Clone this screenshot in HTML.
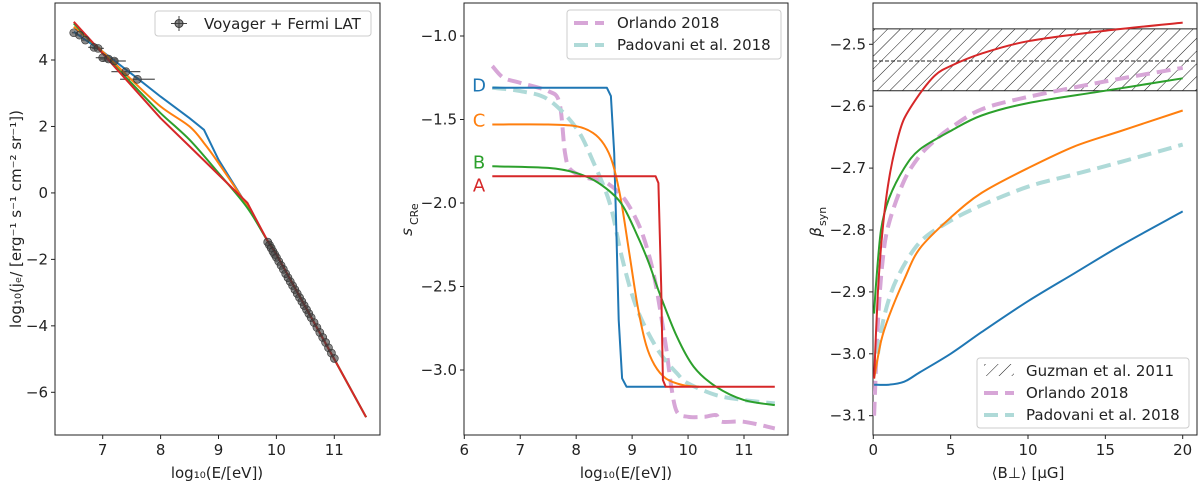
<!DOCTYPE html>
<html><head><meta charset="utf-8"><style>
html,body{margin:0;padding:0;background:#fff;}
svg{display:block;font-family:"DejaVu Sans","Liberation Sans",sans-serif;}
</style></head><body>
<svg id="fig" width="1200" height="482" viewBox="0 0 1200 482" xmlns="http://www.w3.org/2000/svg">
<defs>
<pattern id="hatch" patternUnits="userSpaceOnUse" width="9" height="9" patternTransform="rotate(45)">
<line x1="0" y1="0" x2="0" y2="9" stroke="#000" stroke-width="0.9"/>
</pattern>
<clipPath id="c1"><rect x="55" y="3" width="325" height="432"/></clipPath>
<clipPath id="c2"><rect x="464" y="3" width="324" height="432"/></clipPath>
<clipPath id="c3"><rect x="873" y="3" width="324" height="432"/></clipPath>
</defs>
</svg>
<script>
// ---------- Panel 1 data ----------
const p1Blue = [[6.5,4.85],[7,4.25],[7.6,3.45],[8,2.9],[8.5,2.25],[8.75,1.9],[9,1.0],[9.5,-0.4],[9.85,-1.45],[10,-1.85],[11,-5.0],[11.55,-6.75]];
const p1Orange = [[6.5,5.0],[7,4.25],[7.5,3.4],[8,2.6],[8.5,2.0],[8.75,1.5],[9,0.9],[9.5,-0.4],[9.85,-1.45],[10,-1.85],[11,-5.0],[11.55,-6.75]];
const p1Green = [[6.5,5.1],[7,4.2],[7.5,3.3],[8,2.4],[8.5,1.6],[9,0.6],[9.5,-0.45],[9.85,-1.45],[10,-1.85],[11,-5.0],[11.55,-6.75]];
const p1Red = [[6.5,5.15],[7,4.2],[8,2.25],[8.5,1.4],[9,0.55],[9.5,-0.3],[9.85,-1.45],[10,-1.85],[11,-5.0],[11.55,-6.75]];
const voyX = [6.5,6.6,6.7,6.85,6.92,7.0,7.1,7.2,7.4,7.6];
const voyY = [4.82,4.75,4.6,4.38,4.35,4.07,4.03,3.97,3.65,3.42];
const voyErr = [0.03,0.05,0.06,0.1,0.1,0.12,0.15,0.2,0.25,0.3];
const fermiX = [9.85,9.88,9.91,9.94,9.97,10.0,10.04,10.08,10.12,10.16,10.2,10.24,10.28,10.32,10.36,10.4,10.44,10.48,10.52,10.56,10.6,10.65,10.7,10.75,10.8,10.85,10.9,10.95,11.0];
const fermiY = [-1.48,-1.57,-1.66,-1.76,-1.85,-1.94,-2.06,-2.18,-2.3,-2.43,-2.55,-2.67,-2.79,-2.91,-3.03,-3.15,-3.27,-3.39,-3.51,-3.63,-3.75,-3.9,-4.05,-4.2,-4.35,-4.5,-4.66,-4.82,-4.98];
const p1XTicks = [7,8,9,10,11];
const p1YTicks = [-6,-4,-2,0,2,4];
// ---------- Panel 2 data ----------
const p2D = [[6.5,-1.31],[8.55,-1.31],[8.62,-1.36],[8.68,-1.7],[8.72,-2.2],[8.76,-2.7],[8.82,-3.05],[8.9,-3.1],[9.6,-3.1]];
const p2C = [[6.5,-1.53],[7.5,-1.53],[8.0,-1.54],[8.3,-1.58],[8.5,-1.65],[8.65,-1.76],[8.8,-1.98],[8.95,-2.3],[9.1,-2.62],[9.25,-2.85],[9.4,-2.97],[9.6,-3.05],[9.9,-3.09],[10.2,-3.1]];
const p2B = [[6.5,-1.78],[7.5,-1.79],[8.0,-1.82],[8.4,-1.88],[8.8,-2.0],[9.1,-2.2],[9.3,-2.36],[9.5,-2.55],[9.8,-2.8],[10.1,-2.98],[10.5,-3.1],[11.0,-3.18],[11.55,-3.21]];
const p2A = [[6.5,-1.84],[9.42,-1.84],[9.47,-1.88],[9.52,-2.5],[9.55,-3.06],[9.6,-3.1],[11.55,-3.1]];
const p2Orl = [[6.5,-1.18],[6.7,-1.25],[7.0,-1.28],[7.5,-1.33],[7.7,-1.4],[7.8,-1.7],[7.9,-1.8],[8.2,-1.85],[8.5,-1.87],[8.8,-1.95],[9.0,-2.05],[9.2,-2.2],[9.4,-2.45],[9.6,-2.85],[9.7,-3.1],[9.8,-3.25],[10.0,-3.28],[10.3,-3.28],[10.5,-3.27],[10.6,-3.31],[11.0,-3.31],[11.55,-3.35]];
const p2Pad = [[6.5,-1.31],[7.0,-1.33],[7.5,-1.38],[8.0,-1.55],[8.3,-1.75],[8.6,-2.0],[8.8,-2.3],[9.0,-2.55],[9.2,-2.72],[9.5,-2.9],[9.8,-3.02],[10.0,-3.08],[10.5,-3.15],[11.0,-3.18],[11.55,-3.2]];
const p2XTicks = [6,7,8,9,10,11];
const p2YTicks = [-3.0,-2.5,-2.0,-1.5,-1.0];
const p2Labels = ["D","C","B","A"];
const p2LabelY = [-1.29,-1.5,-1.75,-1.89];
// ---------- Panel 3 data ----------
const p3Red = [[0.05,-3.04],[0.3,-2.9],[0.6,-2.8],[1,-2.72],[1.5,-2.66],[2,-2.62],[3,-2.58],[4,-2.55],[5,-2.535],[7,-2.515],[10,-2.495],[15,-2.478],[20,-2.465]];
const p3Green = [[0.05,-2.935],[0.2,-2.88],[0.5,-2.8],[1,-2.75],[2,-2.7],[3,-2.67],[5,-2.64],[7,-2.615],[10,-2.595],[15,-2.575],[20,-2.555]];
const p3Orange = [[0.05,-3.04],[0.5,-2.98],[1,-2.94],[2,-2.88],[3,-2.83],[5,-2.78],[7,-2.74],[10,-2.70],[13,-2.665],[16,-2.64],[20,-2.607]];
const p3Blue = [[0.05,-3.05],[1,-3.05],[2,-3.045],[3,-3.03],[5,-3.0],[7,-2.965],[10,-2.915],[13,-2.87],[16,-2.825],[20,-2.77]];
const p3Orl = [[0.05,-3.1],[0.3,-2.95],[0.6,-2.85],[1,-2.79],[2,-2.72],[3,-2.68],[4,-2.655],[5,-2.635],[7,-2.605],[10,-2.585],[15,-2.56],[20,-2.538]];
const p3Pad = [[0.3,-3.0],[0.7,-2.94],[1.5,-2.88],[3,-2.82],[5,-2.785],[7,-2.76],[10,-2.73],[13,-2.71],[16,-2.69],[20,-2.662]];
const guzman = [-2.575,-2.527,-2.475];
const p3XTicks = [0,5,10,15,20];
const p3YTicks = [-3.1,-3.0,-2.9,-2.8,-2.7,-2.6,-2.5];

const NS="http://www.w3.org/2000/svg";
const svg=document.getElementById('fig');
function mk(tag,attrs,parent){const e=document.createElementNS(NS,tag);for(const k in attrs)e.setAttribute(k,attrs[k]);(parent||svg).appendChild(e);return e;}
function lin(d0,d1,r0,r1){return v=>r0+(v-d0)*(r1-r0)/(d1-d0);}

const x1=lin(7,11,102.7,334.3), y1=lin(4,-6,60,392.3);
const x2=lin(6,11,464.3,744), y2=lin(-1,-3,36,370);
const x3=lin(0,20,873.3,1182.7), y3=lin(-2.5,-3.1,44.3,415.7);

function pathD(P,smooth){
  if(!smooth) return P.map((p,i)=>(i?'L':'M')+p[0].toFixed(1)+','+p[1].toFixed(1)).join(' ');
  let d='M'+P[0][0].toFixed(1)+','+P[0][1].toFixed(1);
  for(let i=0;i<P.length-1;i++){
    const p0=P[Math.max(0,i-1)],p1=P[i],p2=P[i+1],p3=P[Math.min(P.length-1,i+2)];
    const t=0.16;
    const c1=[p1[0]+(p2[0]-p0[0])*t,p1[1]+(p2[1]-p0[1])*t];
    const c2=[p2[0]-(p3[0]-p1[0])*t,p2[1]-(p3[1]-p1[1])*t];
    d+=' C'+c1[0].toFixed(1)+','+c1[1].toFixed(1)+' '+c2[0].toFixed(1)+','+c2[1].toFixed(1)+' '+p2[0].toFixed(1)+','+p2[1].toFixed(1);
  }
  return d;
}
function line(pts,xs,ys,color,w,dash,clip,name,smooth){
  const P=pts.map(p=>[xs(p[0]),ys(p[1])]);
  const e=mk('path',{d:pathD(P,smooth),fill:'none',stroke:color,'stroke-width':w,'stroke-linejoin':'round','clip-path':'url(#'+clip+')'});
  if(dash)e.setAttribute('stroke-dasharray',dash);
  
  
  return e;
}
function text(x,y,s,opts,name){
  const e=mk('text',Object.assign({x:x,y:y,'font-size':15,fill:'#222'},opts||{}));
  e.textContent=s;
  
  
  return e;
}
function fmt(v,dec){const s=v.toFixed(dec);return s.replace('-','\u2212');}
function axes(x0,y0,w,h,xt,xs,yt,ys,dec,tag){
  const f=mk('rect',{x:x0,y:y0,width:w,height:h,fill:'none',stroke:'#222','stroke-width':1});
  
  
  xt.forEach(v=>{const X=xs(v);
    const t=mk('line',{x1:X,x2:X,y1:y0+h,y2:y0+h+4,stroke:'#222'});
    
    
    text(X,y0+h+20,String(v),{'text-anchor':'middle'},tag+'-x-tick-label');});
  yt.forEach(v=>{const Y=ys(v);
    const t=mk('line',{x1:x0-4,x2:x0,y1:Y,y2:Y,stroke:'#222'});
    
    
    text(x0-7,Y+5,fmt(v,dec),{'text-anchor':'end'},tag+'-y-tick-label');});
}

// ===== Panel 1 =====
axes(55,3,325,432,p1XTicks,x1,p1YTicks,y1,0,'panel1');
const C={blue:'#1f77b4',orange:'#ff7f0e',green:'#2ca02c',red:'#d62728',plum:'#d7a6d7',teal:'#afdad8'};
voyX.forEach((x,i)=>{
  const e=mk('line',{x1:x1(x-voyErr[i]),x2:x1(x+voyErr[i]),y1:y1(voyY[i]),y2:y1(voyY[i]),stroke:'#555','stroke-width':1.2});
  
  
});
line(p1Blue,x1,y1,C.blue,2,null,'c1','model-d-spectrum',false);
line(p1Orange,x1,y1,C.orange,2,null,'c1','model-c-spectrum',true);
line(p1Green,x1,y1,C.green,2,null,'c1','model-b-spectrum',true);
line(p1Red,x1,y1,C.red,2,null,'c1','model-a-spectrum',false);
voyX.forEach((x,i)=>{
  const e=mk('circle',{cx:x1(x),cy:y1(voyY[i]),r:4,fill:'rgba(60,60,60,0.6)',stroke:'#333','stroke-width':0.6});
  
  
});
fermiX.forEach((x,i)=>{
  const e=mk('circle',{cx:x1(x),cy:y1(fermiY[i]),r:4,fill:'rgba(60,60,60,0.6)',stroke:'#333','stroke-width':0.6});
  
  
});
text(217,478,'log\u2081\u2080(E/[eV])',{'text-anchor':'middle'},'panel1-x-axis-title');
text(0,0,'log\u2081\u2080(j\u2091/ [erg\u207b\u00b9 s\u207b\u00b9 cm\u207b\u00b2 sr\u207b\u00b9])',{'text-anchor':'middle',transform:'translate(21,219) rotate(-90)'},'panel1-y-axis-title');
let lg=mk('rect',{x:155,y:11,width:216,height:25,rx:3,fill:'#fff',stroke:'#ccc'});


mk('line',{x1:171,x2:187,y1:23.5,y2:23.5,stroke:'#444'});
mk('line',{x1:179,x2:179,y1:16,y2:31,stroke:'#444'});
mk('circle',{cx:179,cy:23.5,r:4,fill:'rgba(60,60,60,0.6)',stroke:'#333'});
text(204,29,'Voyager + Fermi LAT',{},'legend-voyager-fermi');

// ===== Panel 2 =====
axes(464,3,324,432,p2XTicks,x2,p2YTicks,y2,1,'panel2');
line(p2Orl,x2,y2,C.plum,4,'14,7','c2','orlando-2018-slope',true);
line(p2Pad,x2,y2,C.teal,4,'14,7','c2','padovani-2018-slope',true);
line(p2D,x2,y2,C.blue,2,null,'c2','model-d-slope',false);
line(p2C,x2,y2,C.orange,2,null,'c2','model-c-slope',true);
line(p2B,x2,y2,C.green,2,null,'c2','model-b-slope',true);
line(p2A,x2,y2,C.red,2,null,'c2','model-a-slope',false);
const lc=[C.blue,C.orange,C.green,C.red];
p2Labels.forEach((s,i)=>{text(479,y2(p2LabelY[i])+7,s,{'text-anchor':'middle',fill:lc[i],'font-size':18},'label-'+s.toLowerCase());});
text(626,478,'log\u2081\u2080(E/[eV])',{'text-anchor':'middle'},'panel2-x-axis-title');
text(0,0,'s',{'text-anchor':'middle','font-style':'italic',transform:'translate(412,232) rotate(-90)'},'panel2-y-axis-title');
text(0,0,'CRe',{'font-size':11,transform:'translate(418,225) rotate(-90)'},'panel2-y-axis-subscript');
lg=mk('rect',{x:567,y:10,width:214,height:49,rx:3,fill:'#fff',stroke:'#ccc'});


mk('line',{x1:574,x2:604,y1:23,y2:23,stroke:C.plum,'stroke-width':4,'stroke-dasharray':'14,7'});
mk('line',{x1:574,x2:604,y1:45,y2:45,stroke:C.teal,'stroke-width':4,'stroke-dasharray':'14,7'});
text(617,28,'Orlando 2018',{},'legend-orlando');
text(617,50,'Padovani et al. 2018',{},'legend-padovani');

// ===== Panel 3 =====
let band=mk('rect',{x:873,y:y3(guzman[2]),width:324,height:y3(guzman[0])-y3(guzman[2]),fill:'url(#hatch)',stroke:'none'});


[guzman[0],guzman[2]].forEach(v=>{const e=mk('line',{x1:873,x2:1197,y1:y3(v),y2:y3(v),stroke:'#222','stroke-width':1});
  
  });
let gm=mk('line',{x1:873,x2:1197,y1:y3(guzman[1]),y2:y3(guzman[1]),stroke:'#222','stroke-width':1,'stroke-dasharray':'4,2'});


axes(873,3,324,432,p3XTicks,x3,p3YTicks,y3,1,'panel3');
line(p3Orl,x3,y3,C.plum,4,'14,7','c3','orlando-2018-beta',true);
line(p3Pad,x3,y3,C.teal,4,'14,7','c3','padovani-2018-beta',true);
line(p3Blue,x3,y3,C.blue,2,null,'c3','model-d-beta',true);
line(p3Orange,x3,y3,C.orange,2,null,'c3','model-c-beta',true);
line(p3Green,x3,y3,C.green,2,null,'c3','model-b-beta',true);
line(p3Red,x3,y3,C.red,2,null,'c3','model-a-beta',true);
text(1028,478,'\u27e8B\u22a5\u27e9 [\u03bcG]',{'text-anchor':'middle'},'panel3-x-axis-title');
text(0,0,'\u03b2',{'text-anchor':'middle','font-style':'italic',transform:'translate(821,232) rotate(-90)'},'panel3-y-axis-title');
text(0,0,'syn',{'font-size':11,transform:'translate(826,226) rotate(-90)'},'panel3-y-axis-subscript');
lg=mk('rect',{x:977,y:358,width:212,height:70,rx:3,fill:'#fff',stroke:'#ccc'});


mk('rect',{x:984,y:364,width:30,height:12,fill:'url(#hatch)'});
mk('line',{x1:984,x2:1014,y1:393,y2:393,stroke:C.plum,'stroke-width':4,'stroke-dasharray':'14,7'});
mk('line',{x1:984,x2:1014,y1:415,y2:415,stroke:C.teal,'stroke-width':4,'stroke-dasharray':'14,7'});
text(1026,376,'Guzman et al. 2011',{},'legend-guzman');
text(1026,398,'Orlando 2018',{},'legend-orlando-p3');
text(1026,420,'Padovani et al. 2018',{},'legend-padovani-p3');
</script>
</body></html>
